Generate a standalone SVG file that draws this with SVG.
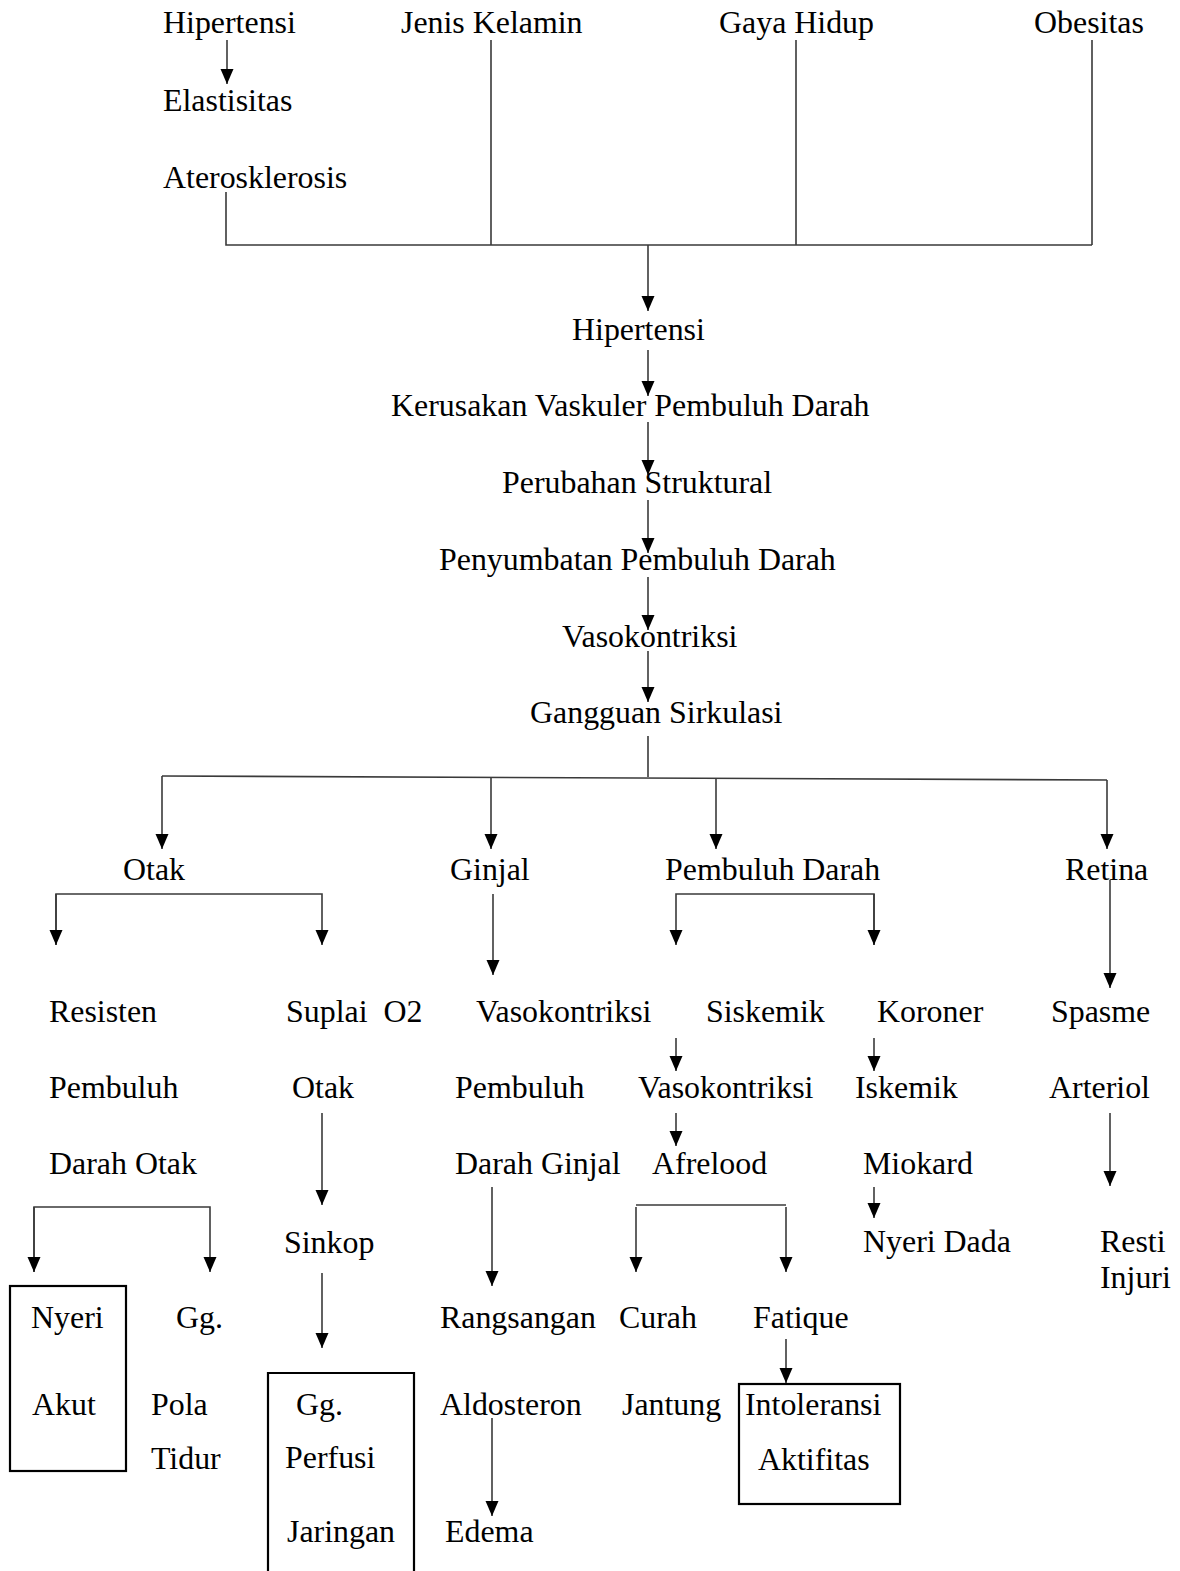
<svg xmlns="http://www.w3.org/2000/svg" width="1180" height="1571" viewBox="0 0 1180 1571">
<style>
text{font-family:"Liberation Serif","Times New Roman",serif;font-size:31.9px;fill:#000}
.c{stroke:#3a3a3a;stroke-width:1.6;fill:none}
.a{marker-end:url(#ah)}
.box{fill:none;stroke:#000;stroke-width:2.2}
</style>
<defs>
<marker id="ah" markerUnits="userSpaceOnUse" markerWidth="16" markerHeight="14" viewBox="0 -7 16 14" refX="15" refY="0" orient="auto">
<path d="M0,-6.5 L15,0 L0,6.5 z" fill="#000"/>
</marker>
</defs>
<rect width="1180" height="1571" fill="#fff"/>
<g id="connectors">
<path class="c a" d="M227,40 V84"/>
<path class="c" d="M226,192 V245 H1092 M491,40 V245 M796,40 V245 M1092,40 V245"/>
<path class="c a" d="M648,245 V311"/>
<path class="c a" d="M648,350 V396"/>
<path class="c a" d="M648,422 V475"/>
<path class="c a" d="M648,500 V553"/>
<path class="c a" d="M648,577 V630"/>
<path class="c a" d="M648,651 V702"/>
<path class="c" d="M648,736 V777 M162,776 L1107,780"/>
<path class="c a" d="M162,776 V849"/>
<path class="c a" d="M491,777 V849"/>
<path class="c a" d="M716,778 V849"/>
<path class="c a" d="M1107,780 V849"/>
<path class="c a" d="M56,945 V894 H322 V945"/>
<path class="c a" d="M56,894 V945"/>
<path class="c a" d="M493,894 V975"/>
<path class="c a" d="M874,945 V894 H676 V945"/>
<path class="c a" d="M874,894 V945"/>
<path class="c a" d="M1110,880 V988"/>
<path class="c a" d="M676,1038 V1071"/>
<path class="c a" d="M874,1038 V1071"/>
<path class="c a" d="M322,1113 V1205"/>
<path class="c a" d="M676,1113 V1146"/>
<path class="c a" d="M1110,1113 V1186"/>
<path class="c a" d="M874,1187 V1218"/>
<path class="c a" d="M34,1272 V1207 H210 V1272"/>
<path class="c a" d="M34,1207 V1272"/>
<path class="c a" d="M492,1187 V1286"/>
<path class="c" d="M636,1205 H786"/>
<path class="c a" d="M636,1207 V1272"/>
<path class="c a" d="M786,1207 V1272"/>
<path class="c a" d="M322,1273 V1348"/>
<path class="c a" d="M786,1339 V1383"/>
<path class="c a" d="M492,1418 V1516"/>
</g>
<g id="n-hipertensi-top"><text x="163" y="33">Hipertensi</text></g>
<g id="n-elastisitas"><text x="163" y="111">Elastisitas</text></g>
<g id="n-aterosklerosis"><text x="163" y="188">Aterosklerosis</text></g>
<g id="n-jenis-kelamin"><text x="401" y="33">Jenis Kelamin</text></g>
<g id="n-gaya-hidup"><text x="719" y="33">Gaya Hidup</text></g>
<g id="n-obesitas"><text x="1034" y="33">Obesitas</text></g>
<g id="n-hipertensi"><text x="572" y="340">Hipertensi</text></g>
<g id="n-kerusakan"><text x="391" y="416">Kerusakan Vaskuler Pembuluh Darah</text></g>
<g id="n-perubahan"><text x="502" y="493">Perubahan Struktural</text></g>
<g id="n-penyumbatan"><text x="439" y="570">Penyumbatan Pembuluh Darah</text></g>
<g id="n-vasokontriksi"><text x="562" y="647">Vasokontriksi</text></g>
<g id="n-gangguan"><text x="530" y="723">Gangguan Sirkulasi</text></g>
<g id="n-otak"><text x="123" y="880">Otak</text></g>
<g id="n-ginjal"><text x="450" y="880">Ginjal</text></g>
<g id="n-pembuluh-darah"><text x="665" y="880">Pembuluh Darah</text></g>
<g id="n-retina"><text x="1065" y="880">Retina</text></g>
<g id="n-resisten"><text x="49" y="1022">Resisten</text><text x="49" y="1098">Pembuluh</text><text x="49" y="1174">Darah Otak</text></g>
<g id="n-suplai"><text x="286" y="1022" xml:space="preserve">Suplai  O2</text><text x="292" y="1098">Otak</text></g>
<g id="n-vaso-ginjal"><text x="476" y="1022">Vasokontriksi</text><text x="455" y="1098">Pembuluh</text><text x="455" y="1174">Darah Ginjal</text></g>
<g id="n-siskemik"><text x="706" y="1022">Siskemik</text></g>
<g id="n-koroner"><text x="877" y="1022">Koroner</text></g>
<g id="n-spasme"><text x="1051" y="1022">Spasme</text><text x="1049" y="1098">Arteriol</text></g>
<g id="n-vaso-pd"><text x="638" y="1098">Vasokontriksi</text></g>
<g id="n-iskemik"><text x="855" y="1098">Iskemik</text><text x="863" y="1174">Miokard</text></g>
<g id="n-afrelood"><text x="652" y="1174">Afrelood</text></g>
<g id="n-nyeri-dada"><text x="863" y="1252">Nyeri Dada</text></g>
<g id="n-resti"><text x="1100" y="1252">Resti</text><text x="1100" y="1288">Injuri</text></g>
<g id="n-sinkop"><text x="284" y="1253">Sinkop</text></g>
<g id="n-nyeri-akut"><rect class="box" x="10" y="1286" width="116" height="185"/><text x="31" y="1328">Nyeri</text><text x="32" y="1415">Akut</text></g>
<g id="n-gg-pola"><text x="176" y="1328">Gg.</text><text x="151" y="1415">Pola</text><text x="151" y="1469">Tidur</text></g>
<g id="n-gg-perfusi"><path class="box" d="M268,1580 V1373 H414 V1580"/><text x="296" y="1415">Gg.</text><text x="285" y="1468">Perfusi</text><text x="287" y="1542">Jaringan</text></g>
<g id="n-rangsangan"><text x="440" y="1328">Rangsangan</text><text x="440" y="1415">Aldosteron</text></g>
<g id="n-curah"><text x="619" y="1328">Curah</text><text x="622" y="1415">Jantung</text></g>
<g id="n-fatique"><text x="753" y="1328">Fatique</text></g>
<g id="n-intoleransi"><rect class="box" x="739" y="1384" width="161" height="120"/><text x="745" y="1415">Intoleransi</text><text x="758" y="1470">Aktifitas</text></g>
<g id="n-edema"><text x="445" y="1542">Edema</text></g>
</svg>
